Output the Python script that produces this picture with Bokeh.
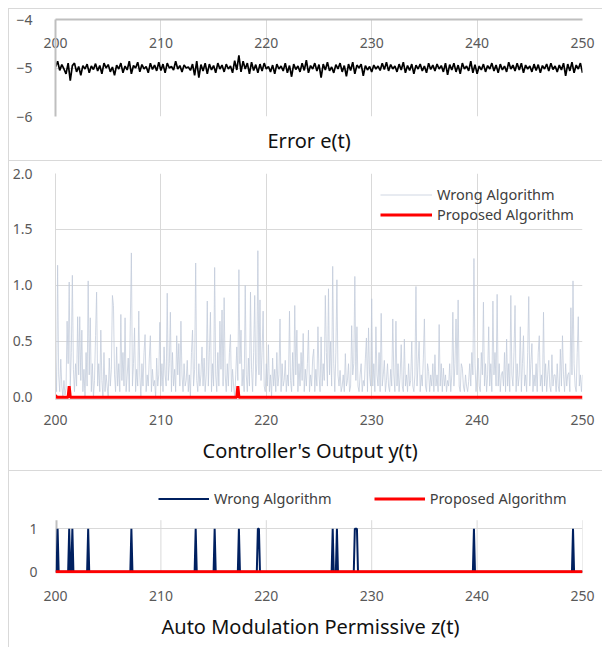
from bokeh.plotting import figure
from bokeh.layouts import column
from bokeh.models import (Range1d, FixedTicker, Legend, LegendItem, LinearAxis, Title,
                          NumeralTickFormatter)
from bokeh.embed import file_html
from bokeh.resources import INLINE

FONT = "Noto Sans"
TICK_COLOR = "#595959"
GRID = "#d9d9d9"
AXIS = "#bfbfbf"

# ---------------- data ----------------
x_start, x_end = 200, 250
x_ticks = [200, 210, 220, 230, 240, 250]
x_tick_labels = ["200", "210", "220", "230", "240", "250"]

# Error e(t), sampled every 0.2 from 200 to 250
e_t0, e_dt = 200.0, 0.2
error_vals = [
    -4.98, -4.86, -5.05, -4.93, -5.02, -5.12, -4.90, -5.26, -4.95, -4.90,
    -5.08, -4.97, -5.15, -4.95, -5.02, -4.92, -5.10, -4.96, -5.03, -4.91,
    -5.06, -4.95, -5.12, -4.90, -5.00, -4.93, -5.08, -4.98, -5.15, -4.94,
    -5.02, -4.90, -5.10, -4.96, -5.04, -4.86, -5.12, -4.95, -5.00, -4.88,
    -5.08, -4.93, -5.02, -4.97, -5.10, -4.90, -5.03, -4.94, -5.06, -4.88,
    -5.05, -4.92, -5.10, -4.90, -5.00, -4.97, -5.04, -4.86, -5.02, -4.95,
    -5.08, -4.94, -5.00, -4.98, -5.05, -4.92, -5.15, -4.86, -5.20, -4.93,
    -5.06, -4.90, -5.12, -4.92, -5.04, -4.95, -5.10, -4.90, -5.02, -4.94,
    -5.08, -4.92, -5.02, -4.96, -5.10, -4.85, -5.04, -4.74, -5.08, -4.86,
    -5.02, -4.90, -5.12, -4.88, -5.05, -4.93, -5.10, -4.92, -5.06, -4.90,
    -5.02, -4.97, -5.08, -4.94, -5.12, -4.92, -5.02, -4.96, -5.06, -4.90,
    -5.10, -4.95, -5.18, -4.92, -5.03, -4.96, -5.08, -4.90, -5.05, -4.84,
    -5.10, -4.95, -5.02, -4.90, -5.06, -4.93, -5.20, -4.92, -5.04, -4.88,
    -5.06, -4.98, -5.10, -4.93, -5.02, -4.90, -5.08, -4.95, -5.17, -4.92,
    -5.05, -4.88, -5.12, -4.94, -5.00, -4.92, -5.16, -4.95, -5.04, -4.97,
    -5.08, -4.94, -5.02, -4.96, -5.05, -4.90, -5.03, -4.88, -5.06, -4.93,
    -5.02, -4.96, -5.08, -4.92, -5.04, -4.88, -5.10, -4.95, -5.05, -4.92,
    -5.12, -4.94, -5.02, -4.92, -5.06, -4.96, -5.10, -4.90, -5.03, -4.94,
    -5.06, -4.92, -5.02, -4.95, -5.08, -4.90, -5.14, -4.93, -5.04, -4.90,
    -5.08, -4.94, -5.12, -4.90, -5.02, -4.96, -5.06, -4.86, -5.10, -4.93,
    -5.12, -4.96, -5.04, -4.92, -5.08, -4.95, -5.02, -4.90, -5.06, -4.94,
    -5.10, -4.92, -5.04, -4.96, -5.08, -4.88, -5.02, -4.94, -5.06, -4.90,
    -5.04, -4.90, -5.10, -4.94, -5.02, -4.96, -5.08, -4.92, -5.05, -4.93,
    -5.10, -4.95, -5.02, -4.92, -5.06, -4.90, -5.03, -4.96, -5.08, -4.94,
    -5.04, -4.90, -5.16, -4.92, -5.06, -4.88, -5.10, -4.94, -5.02, -4.90,
    -5.10,
]

# Controller output y(t), wrong algorithm, sampled every 0.1
y_t0, y_dt = 200.0, 0.1
wrong_y = [
    0.35, 0.05, 1.18, 0.20, 0.05, 0.34, 0.10, 0.00, 0.15, 0.02,
    0.08, 0.68, 0.30, 1.03, 0.10, 0.40, 1.09, 0.25, 0.05, 0.30,
    0.10, 0.72, 0.20, 0.72, 0.15, 0.60, 0.05, 0.25, 0.00, 0.40,
    0.10, 1.04, 0.20, 0.71, 0.05, 0.30, 0.00, 0.15, 0.55, 0.94,
    0.10, 0.30, 0.05, 0.60, 0.15, 0.00, 0.40, 0.05, 0.20, 0.10,
    0.00, 0.35, 0.10, 0.25, 0.91, 0.82, 0.20, 0.05, 0.45, 0.10,
    0.30, 0.05, 0.74, 0.15, 0.40, 0.10, 0.71, 0.05, 0.20, 0.35,
    0.05, 0.68, 1.29, 0.10, 0.30, 0.62, 0.05, 0.25, 0.10, 0.77,
    0.20, 0.00, 0.30, 0.10, 0.40, 0.56, 0.05, 0.20, 0.10, 0.35,
    0.55, 0.05, 0.25, 0.10, 0.15, 0.00, 0.35, 0.10, 0.20, 0.67,
    0.10, 0.30, 0.05, 0.45, 0.20, 0.10, 0.93, 0.15, 0.30, 0.76,
    0.05, 0.40, 0.10, 0.25, 0.05, 0.55, 0.20, 0.48, 0.10, 0.68,
    0.20, 0.05, 0.30, 0.10, 0.15, 0.33, 0.05, 0.20, 0.00, 0.40,
    0.60, 0.10, 0.25, 1.20, 0.15, 0.05, 0.30, 0.10, 0.20, 0.45,
    0.10, 0.35, 0.05, 0.20, 0.86, 0.10, 0.40, 0.76, 0.05, 0.30,
    0.10, 1.16, 0.20, 0.05, 0.40, 0.10, 0.68, 0.25, 0.78, 0.10,
    0.89, 0.20, 0.05, 0.30, 0.10, 0.40, 0.56, 0.05, 0.25, 0.10,
    0.00, 0.20, 0.45, 0.15, 1.14, 0.30, 0.60, 0.10, 0.25, 0.05,
    1.00, 0.20, 0.05, 0.35, 0.10, 0.94, 0.25, 0.05, 0.40, 0.91,
    0.10, 0.30, 1.31, 0.20, 0.87, 0.15, 0.40, 0.77, 0.10, 0.05,
    0.30, 0.10, 0.47, 0.05, 0.20, 0.00, 0.35, 0.10, 0.25, 0.05,
    0.40, 0.10, 0.20, 0.70, 0.05, 0.30, 0.10, 0.15, 0.33, 0.05,
    0.20, 0.10, 0.77, 0.15, 0.05, 0.40, 0.10, 0.82, 0.20, 0.60,
    0.05, 0.30, 0.10, 0.40, 0.15, 0.57, 0.05, 0.25, 0.10, 0.30,
    0.60, 0.05, 0.20, 0.10, 0.35, 0.43, 0.05, 0.25, 0.10, 0.63,
    0.20, 0.05, 0.54, 0.10, 0.30, 0.15, 0.91, 0.40, 0.10, 0.97,
    0.20, 0.50, 0.10, 1.17, 0.30, 0.05, 0.40, 1.05, 0.20, 0.10,
    0.24, 0.05, 0.10, 0.20, 0.05, 0.39, 0.10, 0.15, 0.30, 0.05,
    0.10, 0.64, 0.20, 0.30, 1.08, 0.15, 0.63, 0.10, 0.05, 0.20,
    0.30, 0.05, 0.15, 0.10, 0.35, 0.53, 0.05, 0.62, 0.20, 0.10,
    0.88, 0.10, 0.30, 0.05, 0.63, 0.20, 0.10, 0.40, 0.05, 0.75,
    0.10, 0.20, 0.33, 0.05, 0.15, 0.30, 0.10, 0.05, 0.25, 0.10,
    0.70, 0.20, 0.05, 0.68, 0.10, 0.30, 0.05, 0.20, 0.47, 0.10,
    0.05, 0.52, 0.10, 0.20, 0.05, 0.30, 0.10, 0.15, 0.50, 0.10,
    0.05, 0.20, 0.99, 0.10, 0.30, 0.50, 0.05, 0.20, 0.10, 0.35,
    0.70, 0.10, 0.05, 0.30, 0.23, 0.05, 0.20, 0.10, 0.30, 0.05,
    0.38, 0.10, 0.20, 0.05, 0.65, 0.10, 0.30, 0.05, 0.26, 0.10,
    0.20, 0.05, 0.15, 0.10, 0.30, 0.05, 0.20, 0.76, 0.10, 0.30,
    0.70, 0.20, 0.87, 0.10, 0.05, 0.30, 0.26, 0.10, 0.05, 0.20,
    0.10, 0.05, 0.14, 0.30, 0.10, 0.40, 0.20, 1.24, 0.30, 0.05,
    0.20, 0.35, 0.10, 0.05, 0.40, 0.20, 0.85, 0.10, 0.30, 0.05,
    0.20, 0.63, 0.10, 0.30, 0.05, 0.86, 0.20, 0.40, 0.10, 0.92,
    0.10, 0.30, 0.05, 0.20, 0.23, 0.10, 0.40, 0.05, 0.52, 0.10,
    0.30, 0.05, 0.91, 0.20, 0.10, 0.40, 0.82, 0.05, 0.30, 0.10,
    0.20, 0.63, 0.05, 0.30, 0.55, 0.10, 0.20, 0.05, 0.40, 0.90,
    0.10, 0.30, 0.48, 0.05, 0.20, 0.10, 0.30, 0.05, 0.40, 0.55,
    0.10, 0.20, 0.05, 0.76, 0.10, 0.30, 0.05, 0.20, 0.33, 0.10,
    0.05, 0.38, 0.10, 0.20, 0.20, 0.05, 0.30, 0.10, 0.05, 0.43,
    0.10, 0.55, 0.20, 0.05, 0.30, 0.10, 0.20, 0.22, 0.05, 0.80,
    0.20, 1.04, 0.30, 0.10, 0.05, 0.40, 0.72, 0.10, 0.20, 0.05,
    0.20,
]

# Controller output y(t), proposed algorithm (flat, with small bumps)
prop_y_t = [200.0, 200.1, 201.2, 201.3, 201.4, 217.2, 217.3, 217.4, 250.0]
prop_y = [0.02, 0.0, 0.0, 0.10, 0.0, 0.0, 0.10, 0.0, 0.0]

# Auto modulation permissive z(t): times (step 0.1) at which the wrong algorithm gives 1
z_t0, z_dt, z_n = 200.0, 0.1, 501
wrong_z_on = [200.2, 201.3, 201.6, 203.1, 207.2, 213.3, 215.1, 217.4, 219.2, 219.3,
              226.3, 226.7, 228.4, 228.5, 228.6, 239.7, 249.1]
prop_z_t = [200.0, 250.0]
prop_z = [0.0, 0.0]
z_axis_top = 1.2          # top of the z(t) value axis
z_ticks = [0, 1]

titles = ["Error e(t)", "Controller's Output y(t)", "Auto Modulation Permissive z(t)"]
legend_labels = ["Wrong Algorithm", "Proposed Algorithm"]

# ---------------- derived series ----------------
e_t = [e_t0 + i * e_dt for i in range(len(error_vals))]
wy_t = [y_t0 + i * y_dt for i in range(len(wrong_y))]
z_t = [round(z_t0 + i * z_dt, 1) for i in range(z_n)]
on_set = set(round(v, 1) for v in wrong_z_on)
wrong_z = [1 if t in on_set else 0 for t in z_t]

W = 594
TICK_OVERRIDES = {t: l for t, l in zip(x_ticks, x_tick_labels)}
BORDER = {"border-top": "1px solid #d9d9d9", "border-left": "1px solid #d9d9d9"}


def style_axis(ax):
    ax.major_tick_line_color = None
    ax.minor_tick_line_color = None
    ax.major_tick_out = 0
    ax.major_tick_in = 0
    ax.minor_tick_out = 0
    ax.minor_tick_in = 0
    ax.major_label_text_font = FONT
    ax.major_label_text_font_size = "14px"
    ax.major_label_text_color = TICK_COLOR


def base(height, y0, y1, top, bottom):
    p = figure(width=W, height=height, x_range=Range1d(x_start, x_end), y_range=Range1d(y0, y1),
               output_backend="svg", toolbar_location=None,
               min_border_left=46, min_border_right=W - 46 - 527, min_border_top=top,
               min_border_bottom=bottom)
    p.outline_line_color = None
    p.background_fill_color = "white"
    p.border_fill_color = "white"
    p.styles = BORDER
    style_axis(p.xaxis[0])
    style_axis(p.yaxis[0])
    p.xaxis.ticker = FixedTicker(ticks=x_ticks)
    p.xaxis.major_label_overrides = TICK_OVERRIDES
    p.xgrid.ticker = FixedTicker(ticks=x_ticks)
    p.xgrid.grid_line_color = GRID
    p.ygrid.grid_line_color = GRID
    return p


def add_title(p, text, offset, standoff):
    p.add_layout(Title(text=text, align="left", offset=offset, standoff=standoff,
                       text_font=FONT, text_font_size="20px", text_font_style="normal",
                       text_color="#111111"), "below")


def make_legend(renderers, **kw):
    return Legend(items=[LegendItem(label=l, renderers=[r]) for l, r in zip(legend_labels, renderers)],
                  padding=0, margin=0, label_height=19, glyph_height=19, label_standoff=5,
                  background_fill_alpha=0, border_line_color=None,
                  label_text_font=FONT, label_text_font_size="14.5px", label_text_color="#404040",
                  **kw)


# ---------------- panel 1: error ----------------
p1 = base(152, -6, -4, 10, 43)
p1.xaxis.visible = False
p1.yaxis.ticker = FixedTicker(ticks=[-6, -5, -4])
p1.yaxis.axis_line_color = AXIS
p1.yaxis.axis_line_width = 2
p1.yaxis.major_label_standoff = 23
p1.ygrid.ticker = FixedTicker(ticks=[-6, -5])
top_axis = LinearAxis(ticker=FixedTicker(ticks=x_ticks), major_label_overrides=TICK_OVERRIDES,
                      axis_line_color=AXIS, axis_line_width=2, major_label_standoff=-28)
style_axis(top_axis)
p1.add_layout(top_axis, "above")
p1.line(e_t, error_vals, line_color="black", line_width=1.7)
add_title(p1, titles[0], 212, 16)

# ---------------- panel 2: controller output ----------------
p2 = base(310, -0.02, 2, 12, 72)
p2.yaxis.ticker = FixedTicker(ticks=[0, 0.5, 1, 1.5, 2])
p2.yaxis.formatter = NumeralTickFormatter(format="0.0")
p2.yaxis.axis_line_color = GRID
p2.yaxis.major_label_standoff = 23
p2.xaxis.axis_line_color = GRID
p2.xaxis.major_label_standoff = 15
p2.ygrid.ticker = FixedTicker(ticks=[0.5, 1, 1.5, 2])
r_w2 = p2.line(wy_t, wrong_y, line_color="#c0cad9", line_width=0.75)
r_p2 = p2.line(prop_y_t, prop_y, line_color="#ff0000", line_width=3)
p2.add_layout(make_legend([r_w2, r_p2], location=(325, 175), spacing=0, glyph_width=52))
add_title(p2, titles[1], 147, 14)

# ---------------- panel 3: auto modulation permissive ----------------
p3 = base(177, -0.04, 2.17, 7, 75)
p3.yaxis.ticker = FixedTicker(ticks=z_ticks)
p3.yaxis.axis_line_color = None
p3.yaxis.major_label_standoff = 18
p3.xaxis.axis_line_color = None
p3.xaxis.major_label_standoff = 17
p3.xgrid.visible = False
p3.ygrid.ticker = FixedTicker(ticks=z_ticks)
# vertical gridlines and value-axis line only up to the top of the z axis
p3.segment(x0=x_ticks[1:], y0=[z_ticks[0]] * (len(x_ticks) - 1), x1=x_ticks[1:],
           y1=[z_axis_top] * (len(x_ticks) - 1), line_color=GRID, line_width=1)
p3.segment(x0=[x_start], y0=[z_ticks[0]], x1=[x_start], y1=[z_axis_top], line_color=AXIS, line_width=4)
r_w3 = p3.line(z_t, wrong_z, line_color="#002060", line_width=2)
r_p3 = p3.line(prop_z_t, prop_z, line_color="#ff0000", line_width=3)
p3.add_layout(make_legend([r_w3, r_p3], orientation="horizontal", location=(103, 65),
                          spacing=42, glyph_width=51))
add_title(p3, titles[2], 106, 14)

layout = column(p1, p2, p3, spacing=0)
layout.styles = {"margin-top": "8px", "margin-left": "8px"}
open("out.html", "w").write(file_html(layout, INLINE))
